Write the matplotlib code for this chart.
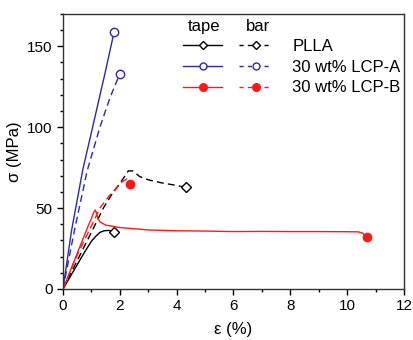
import matplotlib.pyplot as plt
from matplotlib.lines import Line2D
from matplotlib.ticker import MultipleLocator

plt.rcParams['font.family'] = ['Liberation Sans', 'DejaVu Sans']

# strain (%) / stress (MPa) curves
plla_tape_x = [0, 0.25, 0.5, 0.75, 1.0, 1.15, 1.3, 1.45, 1.6, 1.7, 1.78]
plla_tape_y = [0, 7.5, 15, 22.5, 29.5, 32.5, 35, 36, 36.2, 36, 35.5]
plla_bar_x = [0, 0.6, 1.0, 1.42, 1.7, 1.95, 2.15, 2.3, 2.45, 2.7, 3.0, 3.5, 4.0, 4.32]
plla_bar_y = [0, 21, 35, 50, 58, 64, 69, 73, 73, 69.5, 67.5, 65.5, 64, 62.8]
lcpa_tape_x = [0, 0.3, 0.7, 1.2, 1.5, 1.8]
lcpa_tape_y = [0, 36, 74, 112, 135, 159]
lcpa_bar_x = [0, 0.4, 0.85, 1.3, 1.65, 2.0]
lcpa_bar_y = [0, 36, 73, 100, 118, 133]
lcpb_tape_x = [0, 0.3, 0.6, 0.9, 1.0, 1.07, 1.13, 1.17, 1.22, 1.3, 1.5, 2, 3, 4, 5, 6, 7, 8, 9, 10, 10.4, 10.55, 10.69]
lcpb_tape_y = [0, 13.2, 26.4, 39.6, 43.5, 47, 48.8, 47.5, 44, 41.5, 39.5, 38, 36.5, 36, 35.8, 35.5, 35.6, 35.5, 35.5, 35.4, 35.3, 34.5, 32.1]
lcpb_bar_x = [0, 0.5, 1.0, 1.3, 1.6, 1.9, 2.1, 2.25, 2.36]
lcpb_bar_y = [0, 21, 39, 50, 57, 63, 66.5, 68, 65.2]

names = ['PLLA', '30 wt% LCP-A', '30 wt% LCP-B']
colors = ['black', '#2a2ab0', '#ff1a1a']
markers = ['D', 'o', 'o']
fills = ['white', 'white', '#ff1a1a']
msizes = [5, 6, 6]
leg_ms = [4, 5, 5.5]

fig = plt.figure(figsize=(4.13, 3.4), dpi=100)
ax = fig.add_axes([0.1525, 0.15, 0.8255, 0.809])

tapes = [(plla_tape_x, plla_tape_y), (lcpa_tape_x, lcpa_tape_y), (lcpb_tape_x, lcpb_tape_y)]
bars = [(plla_bar_x, plla_bar_y), (lcpa_bar_x, lcpa_bar_y), (lcpb_bar_x, lcpb_bar_y)]

tape_h = []
bar_h = []
for i in range(3):
    ax.plot(*tapes[i], color=colors[i], lw=1, marker=markers[i], ms=msizes[i],
            mfc=fills[i], mec=colors[i], markevery=[-1])
    ax.plot(*bars[i], color=colors[i], lw=1, ls=(0, (5, 3)), marker=markers[i], ms=msizes[i],
            mfc=fills[i], mec=colors[i], markevery=[-1])
    tape_h.append(Line2D([], [], color=colors[i], lw=1, marker=markers[i], ms=leg_ms[i],
                         mfc=fills[i], mec=colors[i]))
    bar_h.append(Line2D([], [], color=colors[i], lw=1, ls=(0, (3, 3)), marker=markers[i], ms=leg_ms[i],
                        mfc=fills[i], mec=colors[i]))

leg1 = ax.legend(tape_h, ['', '', ''], frameon=False, loc='center left',
                 bbox_to_anchor=(0.352, 0.807), borderpad=0, borderaxespad=0, fontsize=12,
                 handlelength=2.35, handletextpad=0, labelspacing=0.35)
ax.add_artist(leg1)
ax.legend(bar_h, names, frameon=False, loc='center left',
          bbox_to_anchor=(0.516, 0.807), borderpad=0, borderaxespad=0, fontsize=12,
          handlelength=2.0, handletextpad=1.2, labelspacing=0.35)
ax.text(0.413, 0.956, 'tape', transform=ax.transAxes, fontsize=12, ha='center', va='center')
ax.text(0.572, 0.956, 'bar', transform=ax.transAxes, fontsize=12, ha='center', va='center')

ax.set_xlim(0, 12)
ax.set_ylim(0, 170)
ax.xaxis.set_major_locator(MultipleLocator(2))
ax.xaxis.set_minor_locator(MultipleLocator(1))
ax.yaxis.set_major_locator(MultipleLocator(50))
ax.yaxis.set_minor_locator(MultipleLocator(10))
ax.tick_params(which='major', length=4, width=1, labelsize=11)
ax.tick_params(which='minor', length=2.5, width=1)
for s in ax.spines.values():
    s.set_linewidth(1)
    s.set_color('#333333')

ax.set_xlabel('ε (%)', fontsize=12, labelpad=6)
ax.set_ylabel('σ (MPa)', fontsize=12, labelpad=4)

fig.savefig('out.png', dpi=100)
